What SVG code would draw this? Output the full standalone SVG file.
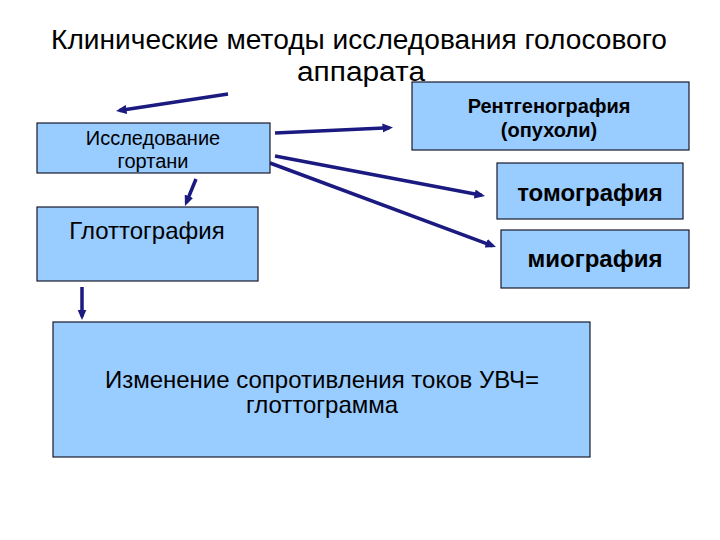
<svg xmlns="http://www.w3.org/2000/svg" width="720" height="540" viewBox="0 0 720 540">
<style>
.box{fill:#99CCFF;stroke:#1a1a2a;stroke-width:1.2}
.t{font-family:"Liberation Sans",Arial,sans-serif;fill:#000;text-anchor:middle}
.b{font-weight:bold}
.c{stroke:#1a1a80;stroke-width:3.5;fill:none;marker-end:url(#ah)}
</style>
<defs>
<marker id="ah" markerWidth="3" markerHeight="2.6" refX="2" refY="1.3" orient="auto" markerUnits="strokeWidth">
<path d="M0,0 L3,1.3 L0,2.6 Z" fill="#1a1a80"/>
</marker>
</defs>
<rect width="720" height="540" fill="#fff"/>
<g id="title">
<text class="t" x="359" y="49" font-size="27" textLength="616" lengthAdjust="spacingAndGlyphs">Клинические методы исследования голосового</text>
<text class="t" x="361" y="81" font-size="27" textLength="128" lengthAdjust="spacingAndGlyphs">аппарата</text>
</g>
<g id="connectors">
<line class="c" x1="228" y1="94" x2="119.5" y2="110.5"/>
<line class="c" x1="275" y1="133" x2="389.5" y2="127.7"/>
<line class="c" x1="275" y1="156" x2="481.6" y2="195.3"/>
<line class="c" x1="270" y1="163" x2="492.7" y2="245.8"/>
<line class="c" x1="196" y1="179" x2="186.3" y2="202.7"/>
<line class="c" x1="82" y1="287" x2="82" y2="316.5"/>
</g>
<g id="n-issl">
<rect class="box" x="37" y="123" width="233" height="50"/>
<text class="t" x="153" y="145" font-size="20">Исследование</text>
<text class="t" x="153" y="168" font-size="20">гортани</text>
</g>
<g id="n-rentgen">
<rect class="box" x="412" y="82" width="277" height="68"/>
<text class="t b" x="549" y="113" font-size="20">Рентгенография</text>
<text class="t b" x="549" y="137" font-size="20">(опухоли)</text>
</g>
<g id="n-tomo">
<rect class="box" x="497" y="163" width="186" height="56"/>
<text class="t b" x="590" y="201" font-size="24">томография</text>
</g>
<g id="n-glotto">
<rect class="box" x="37" y="207" width="221" height="74"/>
<text class="t" x="147" y="239" font-size="24">Глоттография</text>
</g>
<g id="n-mio">
<rect class="box" x="501" y="230" width="188" height="58"/>
<text class="t b" x="595" y="267" font-size="24">миография</text>
</g>
<g id="n-uvch">
<rect class="box" x="53" y="322" width="537" height="135"/>
<text class="t" x="322" y="388" font-size="24">Изменение сопротивления токов УВЧ=</text>
<text class="t" x="322" y="413" font-size="24">глоттограмма</text>
</g>
</svg>
